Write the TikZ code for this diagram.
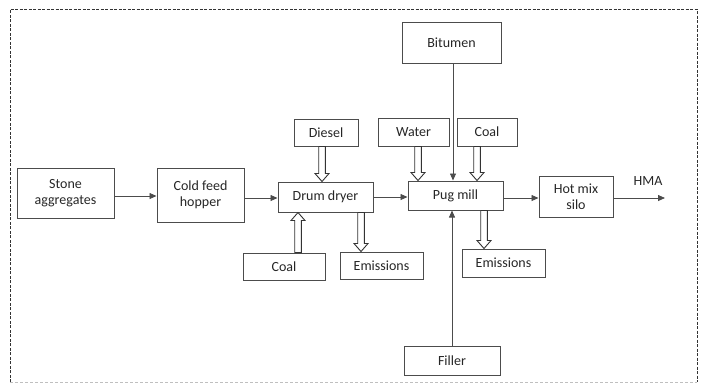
\documentclass[tikz,border=0pt]{standalone}
\usepackage{fontspec}
\setmainfont{Carlito}
\usetikzlibrary{arrows.meta,calc}
\tikzset{
  box/.style={draw=black!70, line width=1pt, rectangle, inner sep=0pt, align=center,
    font=\fontsize{14}{15.5}\selectfont, text=black!85},
  flow/.style={draw=black!70, line width=0.8pt, -{Triangle[length=7pt,width=6pt]}},
  hollow/.style={draw=black!80, line width=0.9pt, fill=white},
}
\newcommand\harr[2]{%
  \draw[hollow] let \p1=(#1), \p2=(#2), \n1={sign(\y2-\y1)} in
    (\x1-3.3pt,\y1) -- (\x1-3.3pt,\y2-\n1*8pt) -- (\x1-7pt,\y2-\n1*8pt) -- (\x1,\y2)
    -- (\x1+7pt,\y2-\n1*8pt) -- (\x1+3.3pt,\y2-\n1*8pt) -- (\x1+3.3pt,\y1) -- cycle;}
\begin{document}
\begin{tikzpicture}[x=1pt,y=-1pt]
\useasboundingbox (0,0) rectangle (702,384);
\draw[black!80, line width=0.9pt, dash pattern=on 3pt off 1.5pt] (10,382) -- (10,9) -- (697,9) -- (697,382);
\draw[black!25, line width=0.6pt, dash pattern=on 3pt off 2pt] (10,382) -- (697,382);

\node[box, minimum width=97, minimum height=50] (stone) at (65.5,193) {Stone\\aggregates};
\node[box, minimum width=87, minimum height=54] (cold) at (200.5,195) {Cold feed\\hopper};
\node[box, minimum width=95, minimum height=30] (dd) at (325.5,197) {Drum dryer};
\node[box, minimum width=64, minimum height=27] (diesel) at (326,132.5) {Diesel};
\node[box, minimum width=82, minimum height=27] (coal1) at (284,266.5) {Coal};
\node[box, minimum width=83, minimum height=27] (em1) at (381.5,265.5) {Emissions};
\node[box, minimum width=71, minimum height=28] (water) at (413.5,132) {Water};
\node[box, minimum width=60, minimum height=28] (coal2) at (487,132) {Coal};
\node[box, minimum width=99, minimum height=41] (bit) at (451.5,43) {Bitumen};
\node[box, minimum width=95, minimum height=29] (pug) at (455.5,195.5) {Pug mill};
\node[box, minimum width=74, minimum height=41] (silo) at (576,196.5) {Hot mix\\silo};
\node[box, minimum width=83, minimum height=28] (em2) at (503.5,263) {Emissions};
\node[box, minimum width=96, minimum height=29] (fill) at (452,360.5) {Filler};
\coordinate (hma) at (665,198);
\node[font=\fontsize{14}{15.5}\selectfont, text=black!85] (hmatxt) at (648,181) {HMA};

\draw[flow] (stone.east |- 0,196) -- (cold.west |- 0,196);
\draw[flow] (cold.east |- 0,198) -- (dd.west |- 0,198);
\draw[flow] (dd.east |- 0,197) -- (pug.west |- 0,197);
\draw[flow] (pug.east |- 0,198) -- (silo.west |- 0,198);
\draw[flow] (silo.east |- hma) -- (hma);
\draw[flow] (bit.south -| 453,0) -- (pug.north -| 453,0);
\draw[flow] (fill.north) -- (pug.south -| fill.north);

\harr{diesel.south -| 322,0}{dd.north -| 322,0}
\harr{coal1.north -| 298,0}{dd.south -| 298,0}
\harr{dd.south -| 361,0}{em1.north -| 361,0}
\harr{water.south -| 418,0}{pug.north -| 418,0}
\harr{coal2.south -| 477,0}{pug.north -| 477,0}
\harr{pug.south -| 484,0}{em2.north -| 484,0}
\end{tikzpicture}
\end{document}
